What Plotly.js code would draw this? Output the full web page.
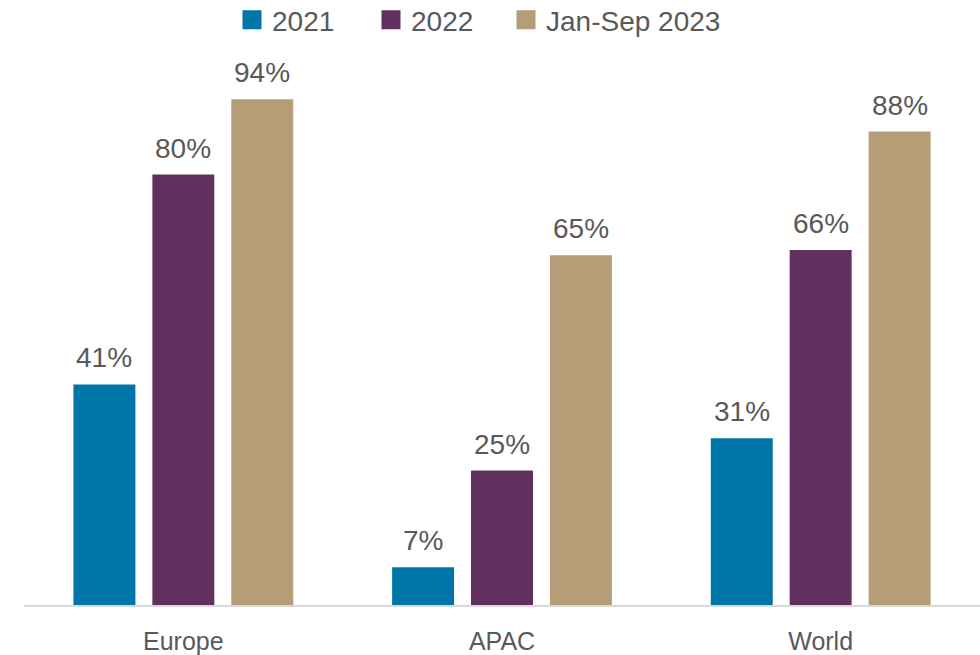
<!DOCTYPE html>
<html><head><meta charset="utf-8">
<script src="https://cdn.plot.ly/plotly-3.0.1.min.js"></script>
<style>html,body{margin:0;padding:0;background:#fff}#chart{width:980px;height:655px}</style>
</head><body><div id="chart"></div>
<script>
const categories = ["Europe", "APAC", "World"];
const seriesNames = ["2021", "2022", "Jan-Sep 2023"];
const values2021 = [41, 7, 31];
const values2022 = [80, 25, 66];
const values2023 = [94, 65, 88];
const colors = ["#0076A8", "#61305E", "#B49D77"];

const allValues = [values2021, values2022, values2023];
const textColor = "#595959";
const fontFam = "'Liberation Sans', Arial, sans-serif";
const legendIds = ["legend", "legend2", "legend3"];
const legendX = [232, 371, 506];

const traces = [];
allValues.forEach((vals, i) => {
  traces.push({
    type: "bar", x: categories, y: vals, name: seriesNames[i],
    marker: {color: colors[i]}, showlegend: false, hoverinfo: "skip"
  });
});
// legend proxies
allValues.forEach((vals, i) => {
  traces.push({
    type: "scatter", mode: "markers", x: [null], y: [null], name: seriesNames[i],
    marker: {symbol: "square", size: 16, color: colors[i], line: {color: colors[i], width: 3}},
    showlegend: true, legend: legendIds[i]
  });
});

const annotations = [];
const offsets = [-79, 0, 79];
allValues.forEach((vals, i) => {
  vals.forEach((v, j) => {
    annotations.push({
      x: categories[j], y: v, xref: "x", yref: "y", text: v + "%",
      showarrow: false, yanchor: "bottom", yshift: 9, xshift: offsets[i],
      font: {family: fontFam, size: 28, color: textColor}
    });
  });
});

function mkLegend(i) {
  return {
    orientation: "h", xref: "container", yref: "container", x: legendX[i] / 980, xanchor: "left",
    y: 1 - 20 / 655, yanchor: "middle", font: {family: fontFam, size: 28, color: textColor},
    bgcolor: "rgba(0,0,0,0)"
  };
}

const layout = {
  width: 980, height: 655,
  margin: {l: 24, r: 0, t: 67, b: 50},
  paper_bgcolor: "#fff", plot_bgcolor: "#fff",
  barmode: "group", bargap: 0.257, bargroupgap: 0.215,
  font: {family: fontFam, color: textColor},
  xaxis: {
    type: "category", range: [-0.5, 2.5], showline: true, linecolor: "#D9D9D9", linewidth: 2,
    ticks: "", showgrid: false, zeroline: false, automargin: false,
    tickfont: {family: fontFam, size: 25, color: textColor}, ticklabelstandoff: 13
  },
  yaxis: {range: [0, 100], visible: false, showgrid: false, zeroline: false, fixedrange: true},
  showlegend: true,
  legend: mkLegend(0), legend2: mkLegend(1), legend3: mkLegend(2),
  annotations: annotations
};
Plotly.newPlot("chart", traces, layout, {displayModeBar: false, staticPlot: true});
</script></body></html>
